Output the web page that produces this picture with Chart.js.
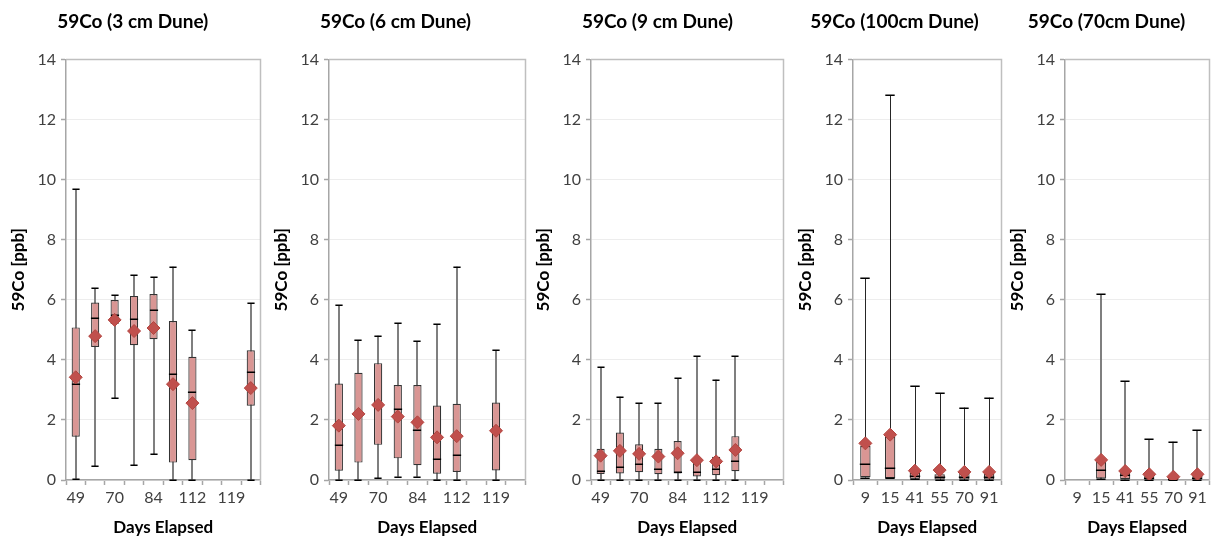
<!DOCTYPE html>
<html>
<head>
<meta charset="utf-8">
<script src="https://cdn.jsdelivr.net/npm/chart.js@4.4.1/dist/chart.umd.min.js"></script>
<style>
  html, body { margin: 0; padding: 0; background: #ffffff; overflow: hidden; }
  #wrap { position: relative; width: 1213px; height: 540px; overflow: hidden; }
  .panel { position: absolute; top: 0; height: 540px; }
</style>
</head>
<body>
<div id="wrap"></div>
<script>
// ---- Category labels ----
const daysLong  = ['49', '', '70', '', '84', '', '112', '', '119', ''];
const daysShort = ['9', '15', '41', '55', '70', '91'];

// ---- 3 cm dune ----
const d3Min  = [0.04, 0.47, 2.72, 0.50, 0.86, 0.00, 0.00, null, null, 0.00];
const d3Q1   = [1.44, 4.43, 5.19, 4.49, 4.69, 0.58, 0.66, null, null, 2.47];
const d3Med  = [3.19, 5.39, 5.50, 5.36, 5.66, 3.52, 2.94, null, null, 3.61];
const d3Q3   = [5.08, 5.91, 5.99, 6.13, 6.19, 5.29, 4.10, null, null, 4.32];
const d3Max  = [9.69, 6.39, 6.16, 6.82, 6.76, 7.10, 4.99, null, null, 5.88];
const d3Mean = [3.42, 4.79, 5.33, 4.96, 5.06, 3.19, 2.56, null, null, 3.06];

// ---- 6 cm dune ----
const d6Min  = [0.00, 0.00, 0.07, 0.11, 0.11, 0.00, 0.00, null, 0.00, null];
const d6Q1   = [0.31, 0.58, 1.17, 0.72, 0.49, 0.21, 0.27, null, 0.32, null];
const d6Med  = [1.17, 2.20, 2.50, 2.37, 1.66, 0.69, 0.82, null, 1.64, null];
const d6Q3   = [3.21, 3.57, 3.89, 3.16, 3.16, 2.48, 2.54, null, 2.58, null];
const d6Max  = [5.83, 4.66, 4.80, 5.22, 4.63, 5.19, 7.10, null, 4.32, null];
const d6Mean = [1.81, 2.20, 2.50, 2.11, 1.92, 1.42, 1.46, null, 1.64, null];

// ---- 9 cm dune ----
const d9Min  = [0.00, 0.00, 0.00, 0.00, 0.00, 0.00, 0.00, 0.00, null, null];
const d9Q1   = [0.20, 0.22, 0.26, 0.19, 0.22, 0.12, 0.16, 0.29, null, null];
const d9Med  = [0.30, 0.43, 0.52, 0.37, 0.28, 0.26, 0.36, 0.62, null, null];
const d9Q3   = [1.04, 1.58, 1.19, 1.04, 1.30, 0.72, 0.77, 1.46, null, null];
const d9Max  = [3.76, 2.77, 2.56, 2.56, 3.38, 4.13, 3.34, 4.13, null, null];
const d9Mean = [0.81, 0.97, 0.87, 0.78, 0.89, 0.66, 0.62, 1.00, null, null];

// ---- 100 cm dune ----
const d100Min  = [0.08, 0.05, 0.02, 0.00, 0.00, 0.00];
const d100Q1   = [0.09, 0.06, 0.04, 0.02, 0.02, 0.02];
const d100Med  = [0.54, 0.41, 0.13, 0.11, 0.11, 0.11];
const d100Q3   = [1.13, 1.44, 0.24, 0.19, 0.22, 0.20];
const d100Max  = [6.71, 12.81, 3.13, 2.89, 2.41, 2.74];
const d100Mean = [1.22, 1.51, 0.31, 0.33, 0.27, 0.27];

// ---- 70 cm dune ----
const d70Min  = [null, 0.03, 0.00, 0.00, 0.00, 0.00];
const d70Q1   = [null, 0.05, 0.03, 0.02, 0.01, 0.02];
const d70Med  = [null, 0.33, 0.17, 0.08, 0.04, 0.08];
const d70Q3   = [null, 0.61, 0.26, 0.15, 0.08, 0.15];
const d70Max  = [null, 6.19, 3.30, 1.36, 1.27, 1.66];
const d70Mean = [null, 0.67, 0.30, 0.19, 0.11, 0.19];

const FONT = 'Lato, "Open Sans", "Liberation Sans", sans-serif';
const BOX_FILL = '#D99694';
const BOX_EDGE = '#333333';
const MEAN_FILL = '#C0504D';
const AXIS_GRAY = '#A6A6A6';

// Whiskers (behind the boxes), caps and medians (over the boxes, under the means)
const boxWhiskers = {
  id: 'boxWhiskers',
  beforeDatasetsDraw(chart, args, o) {
    const ctx = chart.ctx, y = chart.scales.y, meta = chart.getDatasetMeta(0);
    ctx.save();
    ctx.strokeStyle = o.whiskerColor;
    ctx.lineWidth = o.whiskerWidth;
    o.min.forEach((v, i) => {
      if (v == null || o.max[i] == null) return;
      const x = Math.round(meta.data[i].x) + (o.whiskerWidth % 2 ? 0.5 : 0);
      ctx.beginPath();
      ctx.moveTo(x, y.getPixelForValue(v));
      ctx.lineTo(x, y.getPixelForValue(o.max[i]));
      ctx.stroke();
    });
    ctx.restore();
  },
  afterDatasetDraw(chart, args, o) {
    if (args.index !== 0) return;
    const ctx = chart.ctx, y = chart.scales.y, meta = chart.getDatasetMeta(0);
    ctx.save();
    ctx.strokeStyle = '#000000';
    ctx.lineWidth = 1.5;
    o.max.forEach((v, i) => {
      if (v == null) return;
      const el = meta.data[i];
      const half = el.width / 2;
      const cx = Math.round(el.x);
      [v, o.min[i], o.med[i]].forEach((val, k) => {
        if (val == null) return;
        const py = Math.round(y.getPixelForValue(val)) + 0.25;
        const hw = k === 2 ? half : half - 0.5;
        ctx.beginPath();
        ctx.moveTo(cx - hw, py);
        ctx.lineTo(cx + hw, py);
        ctx.stroke();
      });
    });
    ctx.restore();
  }
};

// Light frame along the top and right of the plot area
const plotFrame = {
  id: 'plotFrame',
  beforeDatasetsDraw(chart) {
    const { ctx, chartArea: a } = chart;
    ctx.save();
    ctx.strokeStyle = '#BFBFBF';
    ctx.lineWidth = 1.5;
    ctx.beginPath();
    ctx.moveTo(a.left, a.top);
    ctx.lineTo(a.right, a.top);
    ctx.lineTo(a.right, a.bottom);
    ctx.stroke();
    ctx.restore();
  }
};

function makePanel(p) {
  const div = document.createElement('div');
  div.className = 'panel';
  div.style.left = p.left + 'px';
  div.style.width = p.width + 'px';
  const cv = document.createElement('canvas');
  div.appendChild(cv);
  document.getElementById('wrap').appendChild(div);

  new Chart(cv, {
    data: {
      labels: p.labels,
      datasets: [
        {
          type: 'bar',
          data: p.q1.map((v, i) => (v == null ? null : [v, p.q3[i]])),
          backgroundColor: BOX_FILL,
          borderColor: BOX_EDGE,
          borderWidth: 1.2,
          borderSkipped: false,
          barPercentage: 0.42,
          categoryPercentage: 1,
          grouped: false,
          order: 2
        },
        {
          type: 'line',
          data: p.mean,
          showLine: false,
          pointStyle: 'rectRot',
          pointRadius: 6.5,
          pointBackgroundColor: MEAN_FILL,
          pointBorderColor: '#B3443F',
          pointBorderWidth: 1,
          order: 1
        }
      ]
    },
    options: {
      responsive: true,
      maintainAspectRatio: false,
      animation: false,
      events: [],
      layout: { padding: { top: 0, right: p.padRight, bottom: 0, left: 0 } },
      plugins: {
        legend: { display: false },
        tooltip: { enabled: false },
        title: {
          display: true,
          text: p.title,
          color: '#000000',
          font: { family: FONT, size: 19, weight: 'bold' },
          padding: { top: 10.6, bottom: 26.1 }
        },
        boxWhiskers: {
          min: p.min, max: p.max, med: p.med,
          whiskerColor: p.whiskerColor, whiskerWidth: p.whiskerWidth
        }
      },
      scales: {
        x: {
          type: 'category',
          offset: true,
          grid: { offset: true, drawOnChartArea: false, drawTicks: true, tickLength: 5, tickColor: AXIS_GRAY, tickWidth: 1.5 },
          border: { color: AXIS_GRAY, width: 1.5 },
          ticks: { autoSkip: false, maxRotation: 0, color: '#404040', padding: 3, font: { family: FONT, size: 16 } },
          title: { display: true, text: 'Days Elapsed', color: '#000000', font: { family: FONT, size: 17, weight: 'bold' }, padding: { top: 0, bottom: 2 } },
          afterFit(s) { s.height = 60; }
        },
        y: {
          min: 0,
          max: 14,
          ticks: { stepSize: 2, color: '#404040', padding: 5, font: { family: FONT, size: 16 } },
          grid: { color: '#EDEDED', lineWidth: 1, drawTicks: true, tickLength: 5, tickColor: AXIS_GRAY, tickWidth: 1.5 },
          border: { color: AXIS_GRAY, width: 1.5 },
          title: { display: true, text: '59Co [ppb]', color: '#000000', font: { family: FONT, size: 17, weight: 'bold' }, padding: { top: 8, bottom: 0 } },
          afterFit(s) { s.width = 66; }
        }
      }
    },
    plugins: [plotFrame, boxWhiskers]
  });
}

makePanel({ left: 0,   width: 268, padRight: 2.5, title: '59Co (3 cm Dune)', labels: daysLong,
  min: d3Min, q1: d3Q1, med: d3Med, q3: d3Q3, max: d3Max, mean: d3Mean, whiskerColor: '#7F7F7F', whiskerWidth: 2 });
makePanel({ left: 263, width: 270, padRight: 5,   title: '59Co (6 cm Dune)', labels: daysLong,
  min: d6Min, q1: d6Q1, med: d6Med, q3: d6Q3, max: d6Max, mean: d6Mean, whiskerColor: '#7F7F7F', whiskerWidth: 2 });
makePanel({ left: 525, width: 266, padRight: 1,   title: '59Co (9 cm Dune)', labels: daysLong,
  min: d9Min, q1: d9Q1, med: d9Med, q3: d9Q3, max: d9Max, mean: d9Mean, whiskerColor: '#7F7F7F', whiskerWidth: 2 });
makePanel({ left: 787, width: 222, padRight: 7,   title: '59Co (100cm Dune)', labels: daysShort,
  min: d100Min, q1: d100Q1, med: d100Med, q3: d100Q3, max: d100Max, mean: d100Mean, whiskerColor: '#262626', whiskerWidth: 1 });
makePanel({ left: 999, width: 218, padRight: 3,   title: '59Co (70cm Dune)', labels: daysShort,
  min: d70Min, q1: d70Q1, med: d70Med, q3: d70Q3, max: d70Max, mean: d70Mean, whiskerColor: '#7F7F7F', whiskerWidth: 2 });
</script>
</body>
</html>
